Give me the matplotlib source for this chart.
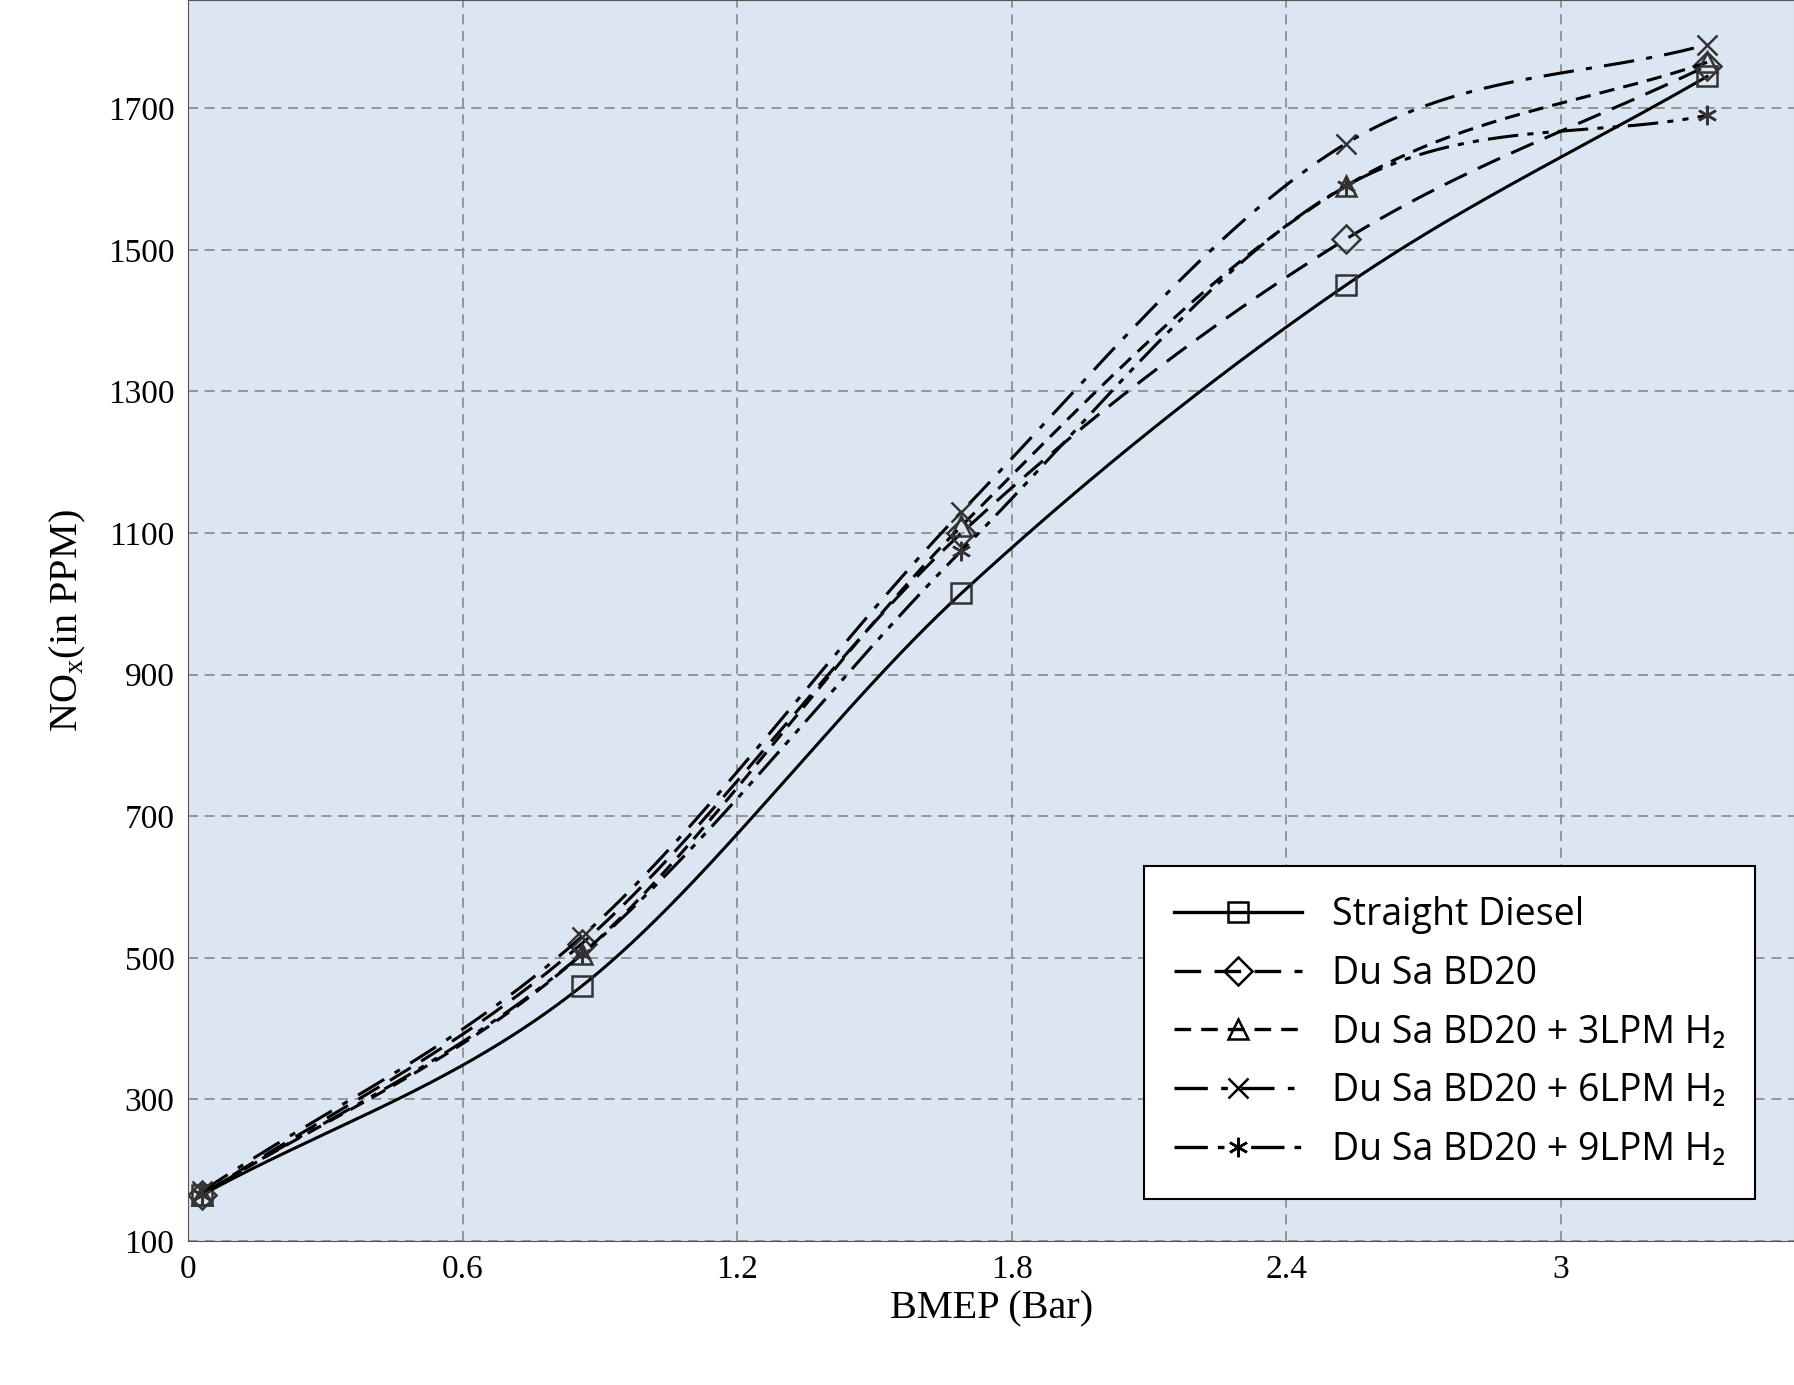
import numpy as np
import matplotlib
matplotlib.use("Agg")
import matplotlib.pyplot as plt

bmep = [0.03, 0.86, 1.69, 2.53, 3.32]
straight_diesel = [165, 460, 1015, 1450, 1745]
bd20 = [165, 520, 1100, 1515, 1760]
bd20_3lpm = [165, 505, 1110, 1590, 1765]
bd20_6lpm = [170, 530, 1130, 1650, 1790]
bd20_9lpm = [165, 505, 1075, 1590, 1690]
labels = ["Straight Diesel", "Du Sa BD20", "Du Sa BD20 + 3LPM H\u2082",
          "Du Sa BD20 + 6LPM H\u2082", "Du Sa BD20 + 9LPM H\u2082"]

def smooth(x, y, n=200):
    x = np.asarray(x, float); y = np.asarray(y, float)
    m = np.gradient(y, x)
    xs, ys = [], []
    for i in range(len(x) - 1):
        h = x[i+1] - x[i]
        t = np.linspace(0, 1, n)
        h00 = 2*t**3 - 3*t**2 + 1; h10 = t**3 - 2*t**2 + t
        h01 = -2*t**3 + 3*t**2; h11 = t**3 - t**2
        xs.append(x[i] + t*h)
        ys.append(h00*y[i] + h10*h*m[i] + h01*y[i+1] + h11*h*m[i+1])
    return np.concatenate(xs), np.concatenate(ys)

fig = plt.figure(figsize=(17.94, 13.85), dpi=100)
ax = fig.add_axes([0.105, 0.104, 0.895, 0.896])
ax.set_facecolor("#dce6f2")

series = [straight_diesel, bd20, bd20_3lpm, bd20_6lpm, bd20_9lpm]
markers = ["s", "D", "^", "x", (6, 2, 0)]
styles = ["-", (0, (8, 4)), (0, (5, 3)), (0, (10, 4, 2, 4)), (0, (10, 3, 2, 3, 2, 3))]
for y, mk, ls, lab in zip(series, markers, styles, labels):
    xs, ys = smooth(bmep, y)
    ax.plot(xs, ys, color="black", linestyle=ls, linewidth=2.2)
    ax.plot(bmep, y, linestyle="none", marker=mk, markersize=14,
            markerfacecolor="none", markeredgecolor="#333333", markeredgewidth=1.8)
    ax.plot([], [], color="black", linestyle=ls, linewidth=2.4, marker=mk,
            markersize=14, markerfacecolor="none", markeredgewidth=1.8, label=lab)

ax.set_xlim(0, 3.51)
ax.set_ylim(100, 1853)
ax.set_xticks([0, 0.6, 1.2, 1.8, 2.4, 3])
ax.set_xticklabels(["0", "0.6", "1.2", "1.8", "2.4", "3"])
ax.set_yticks(range(100, 1800, 200))
ax.grid(True, color="#888888", linestyle=(0, (6, 4)), linewidth=1.2)
ax.tick_params(labelsize=24, length=0, pad=10)
for t in ax.get_xticklabels() + ax.get_yticklabels():
    t.set_fontfamily("Liberation Serif")
for s in ax.spines.values():
    s.set_color("#555555")
ax.set_xlabel("BMEP (Bar)", fontsize=29, family="Liberation Serif")
ax.set_ylabel("NO$_\\mathregular{x}$(in PPM)", fontsize=29, family="Liberation Serif",
              labelpad=14)

h, l = ax.get_legend_handles_labels()
leg = ax.legend(h, l, loc="lower right", bbox_to_anchor=(0.976, 0.034),
                prop={"family": "Open Sans", "size": 27}, handlelength=3.4,
                labelspacing=0.55, borderpad=0.8, borderaxespad=0, fancybox=False,
                framealpha=1, edgecolor="black")
leg.get_frame().set_linewidth(1.5)

fig.savefig("out.png", dpi=100)
